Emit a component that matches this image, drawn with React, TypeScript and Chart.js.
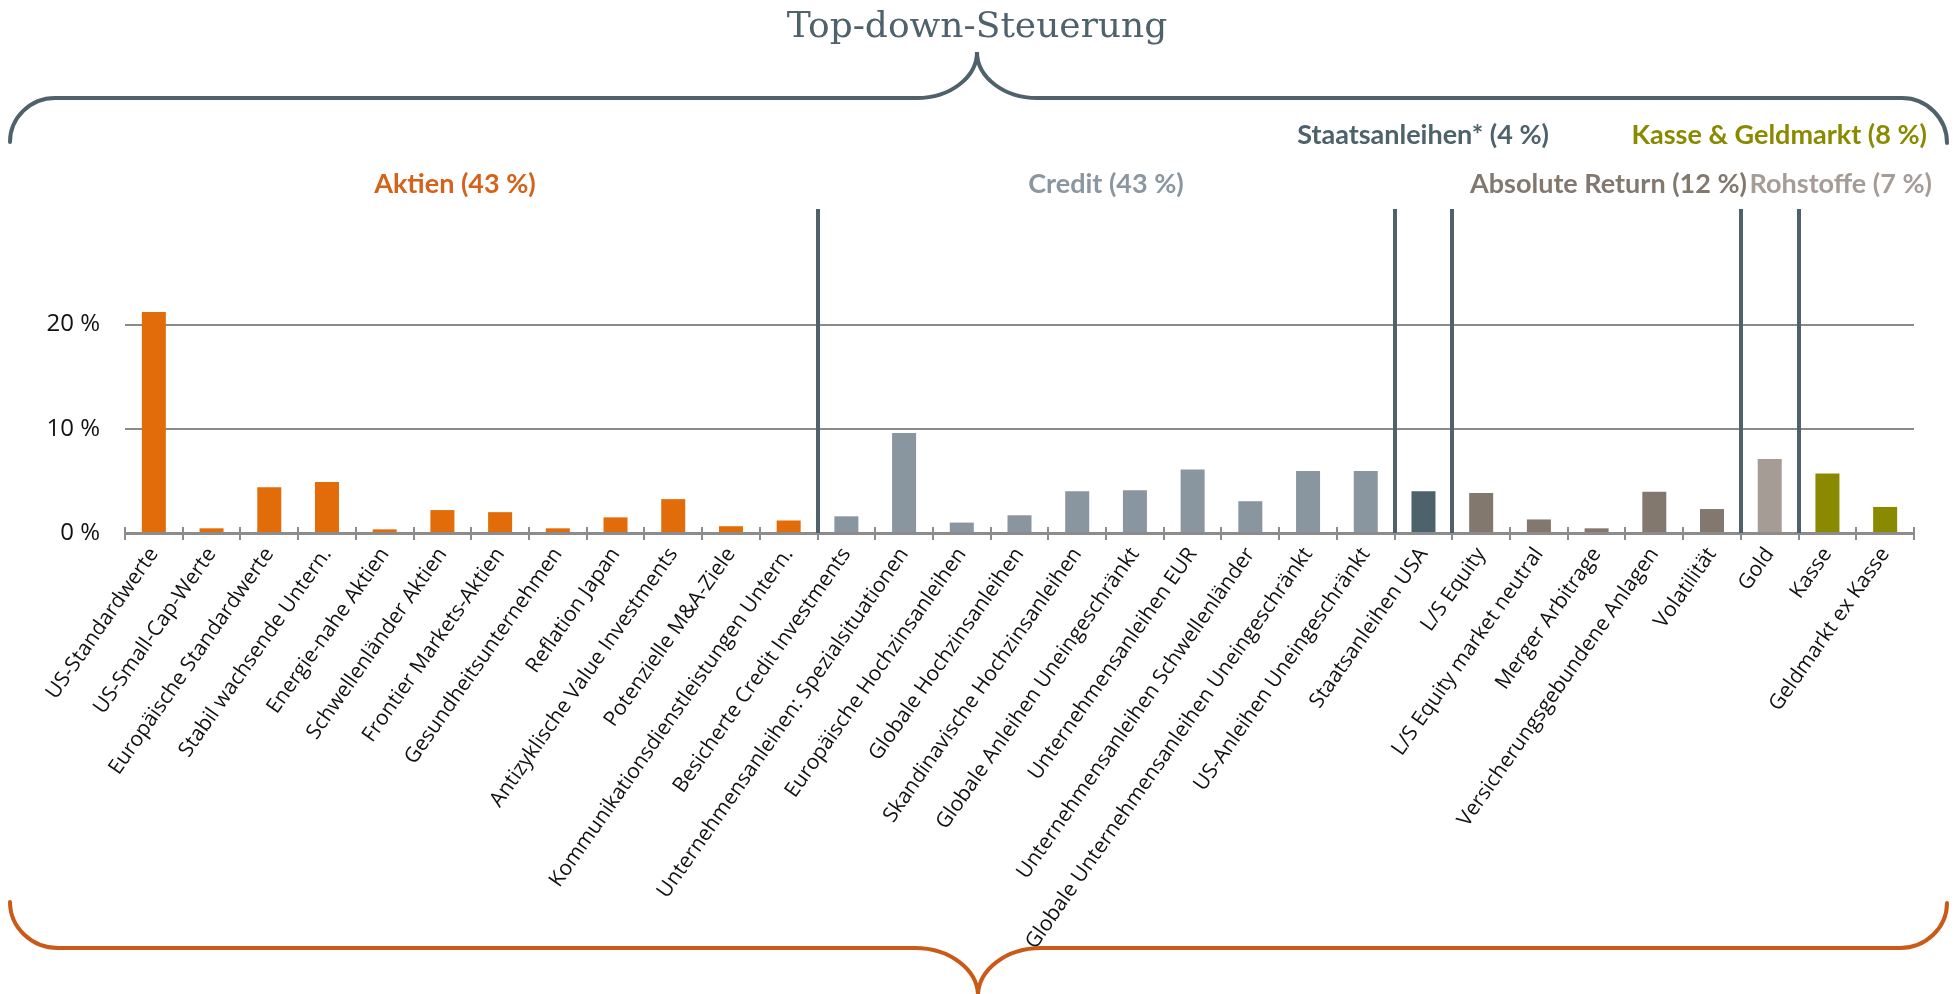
import React, { useEffect, useRef } from "react";
import { Chart, registerables } from "chart.js";

Chart.register(...registerables);

const categories = [
  "US-Standardwerte",
  "US-Small-Cap-Werte",
  "Europäische Standardwerte",
  "Stabil wachsende Untern.",
  "Energie-nahe Aktien",
  "Schwellenländer Aktien",
  "Frontier Markets-Aktien",
  "Gesundheitsunternehmen",
  "Reflation Japan",
  "Antizyklische Value Investments",
  "Potenzielle M&A-Ziele",
  "Kommunikationsdienstleistungen Untern.",
  "Besicherte Credit Investments",
  "Unternehmensanleihen: Spezialsituationen",
  "Europäische Hochzinsanleihen",
  "Globale Hochzinsanleihen",
  "Skandinavische Hochzinsanleihen",
  "Globale Anleihen Uneingeschränkt",
  "Unternehmensanleihen EUR",
  "Unternehmensanleihen Schwellenländer",
  "Globale Unternehmensanleihen Uneingeschränkt",
  "US-Anleihen Uneingeschränkt",
  "Staatsanleihen USA",
  "L/S Equity",
  "L/S Equity market neutral",
  "Merger Arbitrage",
  "Versicherungsgebundene Anlagen",
  "Volatilität",
  "Gold",
  "Kasse",
  "Geldmarkt ex Kasse",
];

const values = [
  21.2, 0.45, 4.4, 4.9, 0.35, 2.2, 2.0, 0.45, 1.5, 3.25, 0.65, 1.2,
  1.6, 9.6, 1.0, 1.7, 4.0, 4.1, 6.1, 3.05, 5.95, 5.95,
  4.0,
  3.85, 1.3, 0.45, 3.95, 2.3,
  7.1,
  5.7, 2.5,
];

// group index for each category
const groupOfCategory = [
  0, 0, 0, 0, 0, 0, 0, 0, 0, 0, 0, 0,
  1, 1, 1, 1, 1, 1, 1, 1, 1, 1,
  2,
  3, 3, 3, 3, 3,
  4,
  5, 5,
];

const groupLabels = [
  "Aktien (43 %)",
  "Credit (43 %)",
  "Staatsanleihen* (4 %)",
  "Absolute Return (12 %)",
  "Rohstoffe (7 %)",
  "Kasse & Geldmarkt (8 %)",
];

const groupBarColors = ["#e36c0a", "#8996a0", "#4e626c", "#83786e", "#a59c96", "#8a8a00"];
const groupLabelColors = ["#d4621a", "#8a97a1", "#4e626c", "#83786e", "#a59c96", "#8a8a00"];

const yTickValues = [0, 10, 20];
const separatorAfterIndex = [11, 21, 22, 27, 28];

const title = "Top-down-Steuerung";

const W = 1959;
const H = 994;

const decorPlugin = {
  id: "decor",
  afterDraw(chart: any) {
    const ctx = chart.ctx as CanvasRenderingContext2D;
    const xs = chart.scales.x;
    const area = chart.chartArea;
    ctx.save();

    // tick marks crossing the axis at category boundaries
    ctx.strokeStyle = "#8c8c8c";
    ctx.lineWidth = 2;
    for (let i = 0; i <= categories.length; i++) {
      const x = Math.round(xs.getPixelForValue(i - 0.5));
      ctx.beginPath();
      ctx.moveTo(x, area.bottom - 6);
      ctx.lineTo(x, area.bottom + 7);
      ctx.stroke();
    }

    // group separators
    ctx.strokeStyle = "#4f626c";
    ctx.lineWidth = 4;
    for (const k of separatorAfterIndex) {
      const x = Math.round(xs.getPixelForValue(k + 0.5));
      ctx.beginPath();
      ctx.moveTo(x, area.top - 1);
      ctx.lineTo(x, area.bottom);
      ctx.stroke();
    }

    // group labels
    ctx.font = "bold 27px Lato";
    ctx.textBaseline = "middle";
    const place = [
      { align: "center", x: 455, y: 184 },
      { align: "center", x: 1106, y: 184 },
      { align: "right", x: 1549, y: 135 },
      { align: "right", x: 1747, y: 184 },
      { align: "right", x: 1932, y: 184 },
      { align: "right", x: 1927, y: 135 },
    ];
    groupLabels.forEach((t, i) => {
      ctx.fillStyle = groupLabelColors[i];
      ctx.textAlign = place[i].align as CanvasTextAlign;
      ctx.fillText(t, place[i].x, place[i].y);
    });

    // title
    ctx.font = "36px 'DejaVu Serif'";
    ctx.fillStyle = "#4f626c";
    ctx.textAlign = "center";
    ctx.textBaseline = "alphabetic";
    ctx.fillText(title, 977, 37);

    // top brace
    const k = 0.55;
    ctx.lineWidth = 4;
    ctx.lineCap = "round";
    ctx.strokeStyle = "#4f626c";
    ctx.beginPath();
    ctx.moveTo(10, 142);
    ctx.bezierCurveTo(10, 142 - 44 * k, 55 - 45 * k, 98, 55, 98);
    ctx.lineTo(917, 98);
    ctx.bezierCurveTo(917 + 60 * k, 98, 977, 52 + 46 * k, 977, 52);
    ctx.bezierCurveTo(977, 52 + 46 * k, 1037 - 60 * k, 98, 1037, 98);
    ctx.lineTo(1902, 98);
    ctx.bezierCurveTo(1902 + 45 * k, 98, 1947, 143 - 45 * k, 1947, 143);
    ctx.stroke();

    // bottom brace
    ctx.strokeStyle = "#c95a18";
    ctx.beginPath();
    ctx.moveTo(10, 902);
    ctx.bezierCurveTo(10, 902 + 46 * k, 58 - 48 * k, 948, 58, 948);
    ctx.lineTo(915, 948);
    ctx.bezierCurveTo(915 + 63 * k, 948, 978, 996 - 48 * k, 978, 996);
    ctx.bezierCurveTo(978, 996 - 48 * k, 1041 - 63 * k, 948, 1041, 948);
    ctx.lineTo(1900, 948);
    ctx.bezierCurveTo(1900 + 47 * k, 948, 1947, 903 + 45 * k, 1947, 903);
    ctx.stroke();

    ctx.restore();
  },
};

export default function App() {
  const ref = useRef<HTMLCanvasElement | null>(null);

  useEffect(() => {
    if (!ref.current) return;
    const chart = new Chart(ref.current, {
      type: "bar",
      data: {
        labels: categories,
        datasets: [
          {
            data: values,
            backgroundColor: groupOfCategory.map((g) => groupBarColors[g]),
            borderWidth: 0,
            categoryPercentage: 1,
            barPercentage: 0.416,
          },
        ],
      },
      options: {
        animation: false,
        responsive: false,
        devicePixelRatio: 1,
        layout: { padding: { top: 210, right: 45, left: 0, bottom: 0 } },
        plugins: {
          legend: { display: false },
          tooltip: { enabled: false },
        },
        scales: {
          x: {
            offset: true,
            grid: { display: false, drawTicks: false },
            border: { display: true, color: "#8c8c8c", width: 3 },
            ticks: {
              autoSkip: false,
              maxRotation: 55,
              minRotation: 55,
              color: "#111111",
              padding: 10,
              font: { family: "'Open Sans'", size: 21 },
            },
            afterFit: (s: any) => {
              s.height = 461;
            },
          },
          y: {
            min: 0,
            max: 31,
            afterBuildTicks: (s: any) => {
              s.ticks = yTickValues.map((v) => ({ value: v }));
            },
            grid: {
              color: (c: any) => (c.tick && c.tick.value === 0 ? "rgba(0,0,0,0)" : "#8a8a8a"),
              lineWidth: 2,
              drawTicks: false,
            },
            border: { display: false },
            ticks: {
              callback: (v: any) => `${v} %`,
              color: "#111111",
              padding: 25,
              font: { family: "'Open Sans'", size: 24 },
            },
            afterFit: (s: any) => {
              s.width = 125;
            },
          },
        },
      },
      plugins: [decorPlugin],
    });
    return () => chart.destroy();
  }, []);

  return (
    <div style={{ position: "absolute", left: 0, top: 0, width: W, height: H, background: "#ffffff" }}>
      <canvas ref={ref} width={W} height={H} style={{ display: "block" }} />
    </div>
  );
}
